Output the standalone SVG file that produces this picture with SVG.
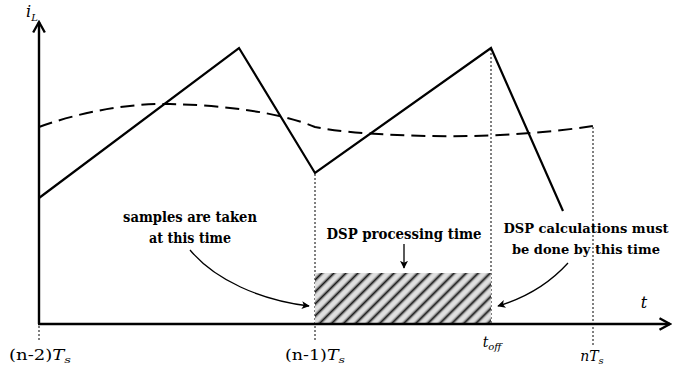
<svg xmlns="http://www.w3.org/2000/svg" width="683" height="375" viewBox="0 0 683 375">
  <style>
    .axis { stroke: #000; stroke-width: 2.4; fill: none; }
    .wave { stroke: #000; stroke-width: 2.2; fill: none; stroke-linejoin: miter; }
    .avg { stroke: #000; stroke-width: 2; fill: none; stroke-dasharray: 14 7; }
    .guide { stroke: #000; stroke-width: 1; fill: none; stroke-dasharray: 2 2; }
    .pointer { stroke: #000; stroke-width: 1.3; fill: none; }
    text { font-family: "DejaVu Serif", "Liberation Serif", serif; fill: #000; }
    .note { font-weight: bold; font-size: 14.5px; text-anchor: middle; }
    .narrow { font-size: 13.5px; }
    .tick { font-size: 14px; text-anchor: middle; }
    .big { font-size: 16px; }
    .it { font-style: italic; }
    .sub { font-size: 10px; }
  </style>
  <defs>
    <marker id="head" viewBox="0 0 10 10" refX="9" refY="5" markerWidth="8" markerHeight="8" markerUnits="userSpaceOnUse" orient="auto">
      <path d="M0,0 L10,5 L0,10 L2.5,5 Z" fill="#000"/>
    </marker>
    <marker id="axisHead" viewBox="0 0 12 12" refX="10" refY="6" markerWidth="14" markerHeight="14" markerUnits="userSpaceOnUse" orient="auto">
      <path d="M1,1 L10,6 L1,11" fill="none" stroke="#000" stroke-width="2"/>
    </marker>
    <linearGradient id="stripe" x1="0" y1="0" x2="1" y2="0">
      <stop offset="0" stop-color="#e0e0e0"/>
      <stop offset="0.25" stop-color="#b0b0b0"/>
      <stop offset="0.5" stop-color="#141414"/>
      <stop offset="0.75" stop-color="#b0b0b0"/>
      <stop offset="1" stop-color="#e0e0e0"/>
    </linearGradient>
    <pattern id="hatch" width="8.5" height="20" patternUnits="userSpaceOnUse" patternTransform="rotate(45)">
      <rect width="8.5" height="20" fill="#e0e0e0"/>
      <rect x="1.2" width="6" height="20" fill="url(#stripe)"/>
    </pattern>
  </defs>

  <!-- dotted time guides -->
  <g id="guides">
    <line class="guide" x1="39" y1="326" x2="39" y2="341"/>
    <line class="guide" x1="315" y1="174" x2="315" y2="341"/>
    <line class="guide" x1="491" y1="49" x2="491" y2="324"/>
    <line class="guide" x1="593" y1="127" x2="593" y2="345"/>
  </g>

  <!-- DSP processing window -->
  <g id="processing-window">
    <rect x="315" y="273" width="176" height="51" fill="url(#hatch)"/>
  </g>

  <!-- inductor current -->
  <g id="current-waveform">
    <polyline class="wave" points="39,198 239,48 315,173 491,48 563,211"/>
  </g>
  <g id="average-current">
    <path class="avg" d="M39,127 C80,112 130,103 170,104 C220,105 280,112 315,127 C350,134 420,137 470,136 C520,135 560,131 593,126"/>
  </g>

  <!-- axes -->
  <g id="axes">
    <line class="axis" x1="39" y1="324" x2="39" y2="22" marker-end="url(#axisHead)"/>
    <line class="axis" x1="38" y1="324" x2="670" y2="324" marker-end="url(#axisHead)"/>
    <text class="tick big it" x="32" y="17">i<tspan class="sub" dy="4">L</tspan></text>
    <text class="tick big it" x="644" y="308">t</text>
  </g>

  <!-- time labels -->
  <g id="time-labels">
    <text class="tick" x="40" y="360" textLength="62" lengthAdjust="spacingAndGlyphs">(n-2)<tspan class="it">T</tspan><tspan class="it sub" dy="3">s</tspan></text>
    <text class="tick" x="315" y="360" textLength="60" lengthAdjust="spacingAndGlyphs">(n-1)<tspan class="it">T</tspan><tspan class="it sub" dy="3">s</tspan></text>
    <text class="tick it" x="492" y="347">t<tspan class="sub" dy="3">off</tspan></text>
    <text class="tick it" x="592" y="361">nT<tspan class="sub" dy="3">s</tspan></text>
  </g>

  <!-- annotations -->
  <g id="samples-note">
    <text class="note" x="190" y="222" textLength="134" lengthAdjust="spacingAndGlyphs">samples are taken</text>
    <text class="note" x="190" y="243" textLength="82" lengthAdjust="spacingAndGlyphs">at this time</text>
  </g>
  <g id="processing-note">
    <text class="note" x="404" y="239" textLength="155" lengthAdjust="spacingAndGlyphs">DSP processing time</text>
  </g>
  <g id="deadline-note">
    <text class="note narrow" x="586" y="233" textLength="165" lengthAdjust="spacingAndGlyphs">DSP calculations must</text>
    <text class="note narrow" x="586" y="254" textLength="148" lengthAdjust="spacingAndGlyphs">be done by this time</text>
  </g>

  <g id="connectors">
    <path class="pointer" d="M190,250 C215,280 260,300 309,306" marker-end="url(#head)"/>
    <line class="pointer" x1="404" y1="244" x2="404" y2="268" marker-end="url(#head)"/>
    <path class="pointer" d="M568,263 C548,285 525,298 498,306" marker-end="url(#head)"/>
  </g>
</svg>
